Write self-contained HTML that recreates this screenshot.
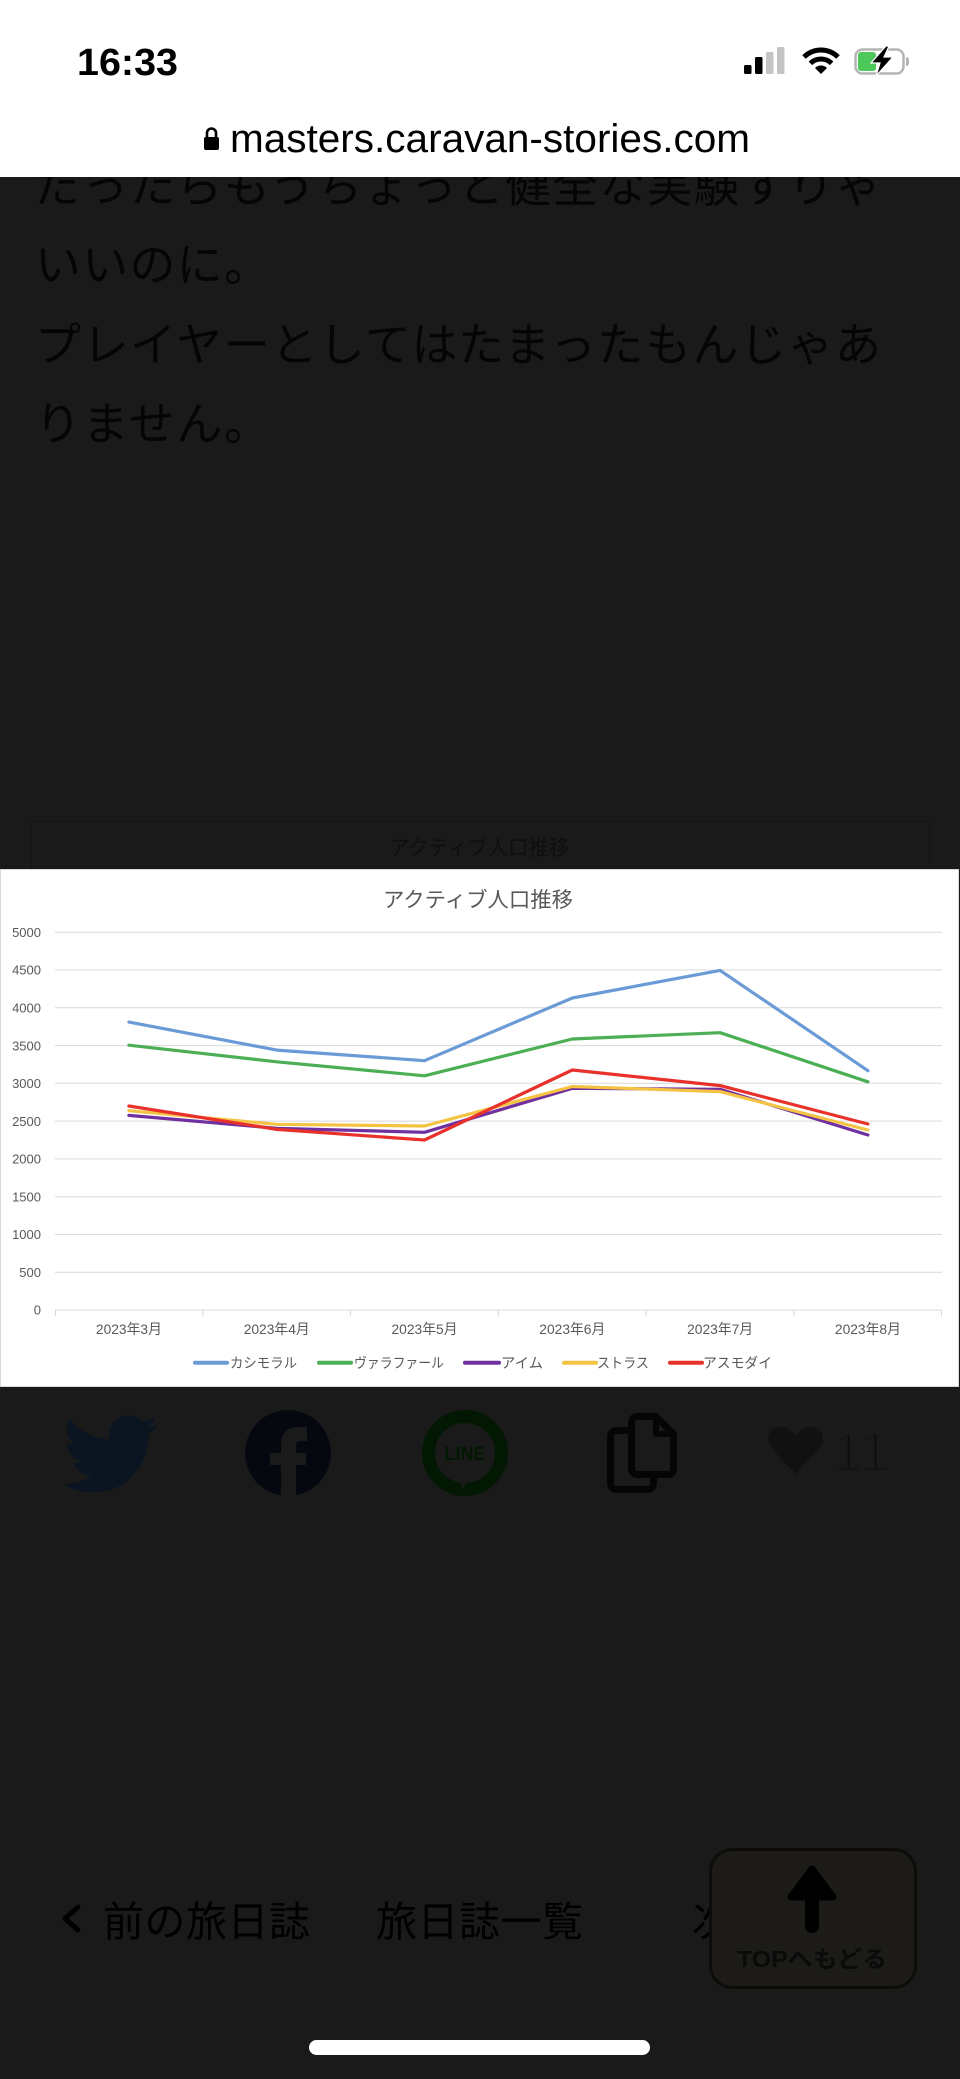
<!DOCTYPE html>
<html><head><meta charset="utf-8">
<style>
html,body{margin:0;padding:0;background:#1a1a1a;}
body{width:960px;height:2079px;overflow:hidden;position:relative;}
svg{position:absolute;left:0;top:0;display:block;}
text{font-family:"Liberation Sans","Noto Sans CJK JP",sans-serif;}
</style></head>
<body>
<svg width="960" height="2079" viewBox="0 0 960 2079" xmlns="http://www.w3.org/2000/svg">
  <rect x="0" y="0" width="960" height="2079" fill="#1a1a1a"/>

  <!-- paragraph text (dimmed) -->
  <g fill="#050505" font-size="46">
    <text x="35" y="202" textLength="846" lengthAdjust="spacing">だったらもうちょっと健全な実験すりゃ</text>
    <text x="35" y="281" textLength="235" lengthAdjust="spacing">いいのに。</text>
    <text x="35" y="361" textLength="846" lengthAdjust="spacing">プレイヤーとしてはたまったもんじゃあ</text>
    <text x="35" y="440" textLength="235" lengthAdjust="spacing">りません。</text>
  </g>

  <!-- header -->
  <rect x="0" y="0" width="960" height="177" fill="#ffffff"/>
  <text x="77" y="75" font-size="38" font-weight="bold" fill="#000" textLength="101" lengthAdjust="spacingAndGlyphs">16:33</text>
  <!-- signal -->
  <rect x="744" y="65" width="7.5" height="9" rx="1.5" fill="#000"/>
  <rect x="755" y="57" width="7.5" height="17" rx="1.5" fill="#000"/>
  <rect x="766" y="52" width="7.5" height="22" rx="1.5" fill="#c4c4c4"/>
  <rect x="777" y="47" width="7.5" height="27" rx="1.5" fill="#c4c4c4"/>
  <!-- wifi -->
  <g fill="none" stroke="#000" stroke-width="5" stroke-linecap="butt">
    <path d="M804,57 A24,24 0 0 1 838,57"/>
    <path d="M810.4,63.4 A15,15 0 0 1 831.6,63.4"/>
  </g>
  <path d="M821,74 L815,68 A8.5,8.5 0 0 1 827,68 Z" fill="#000"/>
  <!-- battery -->
  <rect x="855.5" y="49.5" width="48" height="24" rx="7" fill="none" stroke="#b5b5b5" stroke-width="2.5"/>
  <path d="M906,57 Q909,57 909,60 V63 Q909,66 906,66 Z" fill="#b5b5b5"/>
  <rect x="858" y="52" width="18" height="19" rx="3" fill="#4cc95a"/>
  <polygon points="886,46 871,63 880,63 876,76 893,57 884,57 889,46" fill="#000" stroke="#fff" stroke-width="1.2"/>
  <!-- url -->
  <rect x="204" y="137" width="15" height="13" rx="2" fill="#000"/>
  <path d="M207,138 V133 A4.5,4.5 0 0 1 216,133 V138" fill="none" stroke="#000" stroke-width="2.6"/>
  <text x="230" y="152" font-size="40" fill="#000" textLength="520" lengthAdjust="spacingAndGlyphs">masters.caravan-stories.com</text>

  <!-- faint container behind chart -->
  <rect x="31.5" y="821.5" width="898" height="80" fill="none" stroke="#141414" stroke-width="1"/>
  <text x="479" y="855" font-size="21" fill="#0f0f0f" text-anchor="middle" textLength="180" lengthAdjust="spacingAndGlyphs">アクティブ人口推移</text>

  <!-- chart panel -->
  <rect x="0.5" y="869.5" width="958" height="517" fill="#ffffff" stroke="#d9d9d9" stroke-width="1"/>
  <text x="478" y="907" font-size="21" fill="#595959" text-anchor="middle" textLength="190" lengthAdjust="spacingAndGlyphs">アクティブ人口推移</text>

  <!-- gridlines -->
  <g stroke="#d9d9d9" stroke-width="1">
    <line x1="55" y1="932.2" x2="942" y2="932.2"/>
    <line x1="55" y1="970" x2="942" y2="970"/>
    <line x1="55" y1="1007.8" x2="942" y2="1007.8"/>
    <line x1="55" y1="1045.6" x2="942" y2="1045.6"/>
    <line x1="55" y1="1083.3" x2="942" y2="1083.3"/>
    <line x1="55" y1="1121.1" x2="942" y2="1121.1"/>
    <line x1="55" y1="1158.9" x2="942" y2="1158.9"/>
    <line x1="55" y1="1196.7" x2="942" y2="1196.7"/>
    <line x1="55" y1="1234.4" x2="942" y2="1234.4"/>
    <line x1="55" y1="1272.2" x2="942" y2="1272.2"/>
    <line x1="55" y1="1310" x2="942" y2="1310"/>
    <line x1="55.5" y1="1310" x2="55.5" y2="1316"/>
    <line x1="202.8" y1="1310" x2="202.8" y2="1316"/>
    <line x1="350.6" y1="1310" x2="350.6" y2="1316"/>
    <line x1="498.4" y1="1310" x2="498.4" y2="1316"/>
    <line x1="646.2" y1="1310" x2="646.2" y2="1316"/>
    <line x1="794" y1="1310" x2="794" y2="1316"/>
    <line x1="941.5" y1="1310" x2="941.5" y2="1316"/>
  </g>

  <!-- y labels -->
  <g font-size="13" fill="#595959" text-anchor="end">
    <text x="41" y="936.9">5000</text>
    <text x="41" y="974.7">4500</text>
    <text x="41" y="1012.5">4000</text>
    <text x="41" y="1050.3">3500</text>
    <text x="41" y="1088">3000</text>
    <text x="41" y="1125.8">2500</text>
    <text x="41" y="1163.6">2000</text>
    <text x="41" y="1201.4">1500</text>
    <text x="41" y="1239.1">1000</text>
    <text x="41" y="1276.9">500</text>
    <text x="41" y="1314.7">0</text>
  </g>

  <!-- x labels -->
  <g font-size="14" fill="#595959" text-anchor="middle">
    <text x="128.9" y="1334" textLength="66" lengthAdjust="spacingAndGlyphs">2023年3月</text>
    <text x="276.7" y="1334" textLength="66" lengthAdjust="spacingAndGlyphs">2023年4月</text>
    <text x="424.5" y="1334" textLength="66" lengthAdjust="spacingAndGlyphs">2023年5月</text>
    <text x="572.3" y="1334" textLength="66" lengthAdjust="spacingAndGlyphs">2023年6月</text>
    <text x="720.1" y="1334" textLength="66" lengthAdjust="spacingAndGlyphs">2023年7月</text>
    <text x="867.9" y="1334" textLength="66" lengthAdjust="spacingAndGlyphs">2023年8月</text>
  </g>

  <!-- series -->
  <g fill="none" stroke-width="3.2" stroke-linejoin="round" stroke-linecap="round">
    <polyline stroke="#6b9bd6" points="128.9,1022.1 276.7,1050.1 424.5,1060.7 572.3,998.0 720.1,970.4 867.9,1070.7"/>
    <polyline stroke="#4caf55" points="128.9,1045.2 276.7,1061.8 424.5,1075.8 572.3,1039.0 720.1,1032.7 867.9,1081.8"/>
    <polyline stroke="#7030a0" points="128.9,1115.4 276.7,1128.3 424.5,1132.3 572.3,1088.3 720.1,1089.3 867.9,1135.0"/>
    <polyline stroke="#f5c343" points="128.9,1110.7 276.7,1124.3 424.5,1126.0 572.3,1086.5 720.1,1091.6 867.9,1130.0"/>
    <polyline stroke="#e8312a" points="128.9,1106.0 276.7,1129.4 424.5,1140.0 572.3,1070.0 720.1,1085.6 867.9,1124.0"/>
  </g>

  <!-- legend -->
  <g stroke-width="4" stroke-linecap="round">
    <line x1="195" y1="1362.7" x2="227" y2="1362.7" stroke="#6b9bd6"/>
    <line x1="319" y1="1362.7" x2="351" y2="1362.7" stroke="#4caf55"/>
    <line x1="465" y1="1362.7" x2="499" y2="1362.7" stroke="#7030a0"/>
    <line x1="564" y1="1362.7" x2="596" y2="1362.7" stroke="#f5c343"/>
    <line x1="670" y1="1362.7" x2="702" y2="1362.7" stroke="#e8312a"/>
  </g>
  <g font-size="14" fill="#595959">
    <text x="230" y="1368" textLength="67" lengthAdjust="spacingAndGlyphs">カシモラル</text>
    <text x="354" y="1368" textLength="90" lengthAdjust="spacingAndGlyphs">ヴァラファール</text>
    <text x="501" y="1368" textLength="42" lengthAdjust="spacingAndGlyphs">アイム</text>
    <text x="597" y="1368" textLength="52" lengthAdjust="spacingAndGlyphs">ストラス</text>
    <text x="703" y="1368" textLength="69" lengthAdjust="spacingAndGlyphs">アスモダイ</text>
  </g>

  <!-- share icons -->
  <path fill="#0a1521" transform="translate(63,1406.3) scale(3.96)" d="M23.954 4.569c-.885.389-1.83.654-2.825.775 1.014-.611 1.794-1.574 2.163-2.723-.951.555-2.005.959-3.127 1.184-.896-.959-2.173-1.559-3.591-1.559-2.717 0-4.920 2.203-4.920 4.917 0 .39.045.765.127 1.124C7.691 8.094 4.066 6.13 1.64 3.161c-.427.722-.666 1.561-.666 2.475 0 1.71.87 3.213 2.188 4.096-.807-.026-1.566-.248-2.228-.616v.061c0 2.385 1.693 4.374 3.946 4.827-.413.111-.849.171-1.296.171-.314 0-.615-.03-.916-.086.631 1.953 2.445 3.377 4.604 3.417-1.680 1.319-3.809 2.105-6.102 2.105-.39 0-.779-.023-1.170-.067 2.189 1.394 4.768 2.209 7.557 2.209 9.054 0 13.999-7.496 13.999-13.986 0-.209 0-.42-.015-.63.961-.689 1.8-1.56 2.46-2.548l-.047-.02z"/>

  <circle cx="288" cy="1453" r="43" fill="#05080f"/>
  <path fill="#1a1a1a" d="M281,1497 V1445 Q281,1427 299,1427 H307 V1441 H301 Q296,1441 296,1446 V1497 Z"/>
  <rect x="270" y="1453" width="36" height="12" fill="#1a1a1a"/>

  <circle cx="465" cy="1453" r="36.5" fill="none" stroke="#021802" stroke-width="13"/>
  <polygon points="461,1476 473,1476 462,1489" fill="#1a1a1a"/>
  <text x="465" y="1460" font-size="19" font-weight="bold" fill="#021802" text-anchor="middle" textLength="41" lengthAdjust="spacingAndGlyphs">LINE</text>

  <rect x="610.5" y="1430.5" width="43" height="59" rx="6" fill="none" stroke="#050505" stroke-width="7"/>
  <path d="M631.5,1423 Q631.5,1416.5 638,1416.5 H656 L673.5,1434 V1468 Q673.5,1474.5 667,1474.5 H638 Q631.5,1474.5 631.5,1468 Z" fill="#1a1a1a" stroke="#050505" stroke-width="7" stroke-linejoin="round"/>
  <path d="M656,1416.5 V1434 H673.5" fill="none" stroke="#050505" stroke-width="6" stroke-linejoin="round"/>

  <path fill="#111111" d="M795.5,1474 L773,1450 C764,1440 768,1427 781,1427 C788,1427 793,1432 795.5,1436 C798,1432 803,1427 810,1427 C823,1427 827,1440 818,1450 Z"/>
  <text x="832" y="1471" font-size="56" fill="#0e0e0e" stroke="#1a1a1a" stroke-width="3">11</text>

  <!-- nav -->
  <polyline points="78,1907 65,1918.5 78,1930" fill="none" stroke="#000" stroke-width="5" stroke-linecap="round" stroke-linejoin="round"/>
  <g font-size="41" fill="#000">
    <text x="103" y="1936" textLength="207" lengthAdjust="spacing">前の旅日誌</text>
    <text x="376" y="1936" textLength="207" lengthAdjust="spacing">旅日誌一覧</text>
    <text x="692" y="1936">次</text>
  </g>

  <!-- TOP button -->
  <rect x="710.5" y="1849.5" width="205" height="138" rx="22" fill="#1c1b17" stroke="#0d0c08" stroke-width="3"/>
  <line x1="812" y1="1895" x2="812" y2="1926" stroke="#000" stroke-width="14" stroke-linecap="round"/>
  <polygon points="812,1869 791,1897 833,1897" fill="#000" stroke="#000" stroke-width="7" stroke-linejoin="round"/>
  <text x="812" y="1967" font-size="23" font-weight="bold" fill="#0a0a0a" text-anchor="middle" textLength="150" lengthAdjust="spacingAndGlyphs">TOPへもどる</text>

  <!-- home indicator -->
  <rect x="309" y="2040" width="341" height="15" rx="7.5" fill="#ffffff"/>
</svg>
</body></html>
